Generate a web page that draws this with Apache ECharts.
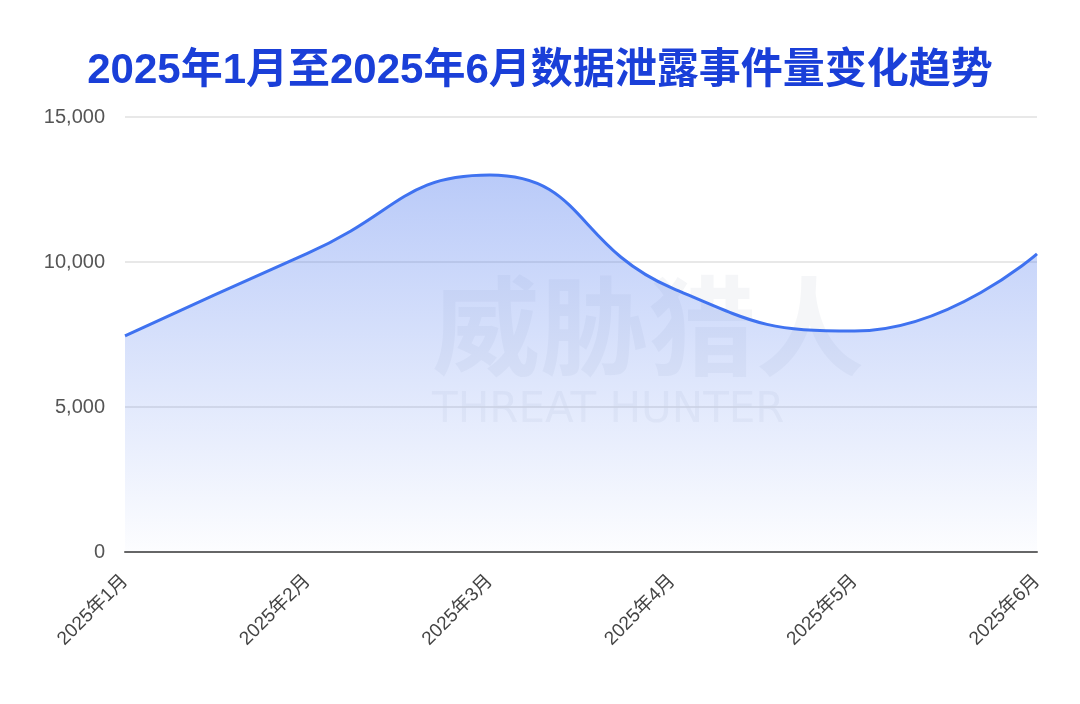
<!DOCTYPE html>
<html><head><meta charset="utf-8">
<script src="https://cdn.jsdelivr.net/npm/echarts@6/dist/echarts.min.js"></script>
<style>html,body{margin:0;padding:0;background:#fff}#c{width:1080px;height:704px}</style>
</head><body><div id="c"></div>
<script>
const categories = ['2025年1月','2025年2月','2025年3月','2025年4月','2025年5月','2025年6月'];
const values = [7450, 10300, 13000, 9100, 7620, 10280];
const titleText = '2025年1月至2025年6月数据泄露事件量变化趋势';

const chart = echarts.init(document.getElementById('c'));
chart.setOption({
  backgroundColor: '#ffffff',
  animation: false,
  title: {
    text: titleText, left: 'center', top: 45,
    textStyle: { color: '#1a3fd8', fontSize: 42, fontWeight: 'bold', fontFamily: '"Liberation Sans", "Noto Sans CJK SC", sans-serif' }
  },
  graphic: [
    { type: 'text', left: 432, top: 272, z: 0, style: { text: '威胁猎人', fontSize: 108, fontWeight: 'bold', fontFamily: 'Noto Sans CJK SC', fill: 'rgba(120,130,150,0.07)' } },
    { type: 'text', left: 432, top: 390, z: 0, style: { text: 'THREAT HUNTER', fontSize: 42, fontFamily: 'DejaVu Sans', fill: 'rgba(120,130,150,0.07)' } }
  ],
  grid: { left: 125, right: 43, top: 117, bottom: 152 },
  xAxis: {
    type: 'category', data: categories, boundaryGap: false,
    axisLine: { lineStyle: { color: '#666', width: 2 } },
    axisTick: { show: false },
    axisLabel: { rotate: 45, color: '#444', fontSize: 19, margin: 26, fontFamily: '"Liberation Sans", "Noto Sans CJK SC", sans-serif' }
  },
  yAxis: {
    type: 'value', min: 0, max: 15000, interval: 5000,
    axisLine: { show: false }, axisTick: { show: false },
    axisLabel: { color: '#555', fontSize: 20, margin: 20, fontFamily: '"Liberation Sans", sans-serif', formatter: v => v.toLocaleString('en-US') },
    splitLine: { lineStyle: { color: '#e0e0e0', width: 1.5 } }
  },
  series: [{
    type: 'line', data: values, smooth: true, symbol: 'none',
    lineStyle: { color: '#3f72f0', width: 3 },
    areaStyle: {
      color: new echarts.graphic.LinearGradient(0, 0, 0, 1, [
        { offset: 0, color: 'rgba(74,118,238,0.55)' },
        { offset: 1, color: 'rgba(74,118,238,0.02)' }
      ])
    }
  }]
});
</script></body></html>
